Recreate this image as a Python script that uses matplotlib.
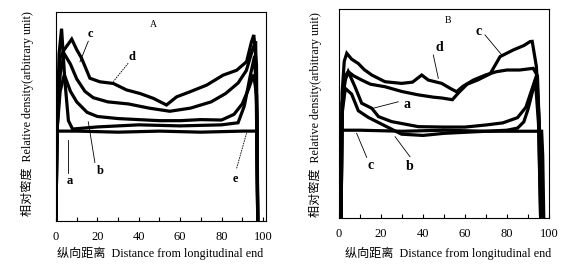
import matplotlib
matplotlib.use("Agg")
import matplotlib.pyplot as plt

plt.rcParams['font.family'] = ['Liberation Serif', 'Noto Sans CJK SC']

# ---- panel A curves (x = distance, y = relative density, arbitrary) ----
a_x = [0, 0.5, 1.5, 2.7, 4.3, 6, 8, 20, 40, 60, 80, 88, 91, 94, 96, 97.2, 97.5]
a_y = [0, 43, 80, 92, 67, 48, 44, 45, 46, 45.5, 46, 47, 55, 70, 79, 50, 0]

b_x = [0, 0.5, 2, 4, 7, 10, 15, 20, 30, 40, 50, 60, 70, 80, 86, 90, 93, 95.5, 97, 97.5]
b_y = [0, 43, 62, 70, 62, 57, 52, 50, 49, 48.5, 48, 48, 48.5, 48.3, 51, 56, 63, 70, 60, 0]

c_x = [0, 0.5, 2, 4, 7, 10, 14, 18, 25, 35, 45, 55, 65, 75, 82, 88, 92, 95, 96.5, 97.5]
c_y = [0, 43, 70, 80, 75, 68, 62, 59, 57, 56, 54, 52.5, 54, 57, 61, 66, 72, 82, 86, 0]

d_x = [0, 0.5, 2, 4, 7.6, 10, 12.4, 16.4, 21.2, 27.7, 34.1, 40.6, 47, 53.4, 58.3,
       64.7, 72.8, 80.8, 87.3, 92.1, 94.5, 95.6, 96.9, 97.5]
d_y = [0, 43, 78, 82, 87, 82, 77.8, 68.3, 66.6, 65.8, 62.7, 61, 58.7, 55.5, 59.4,
       61.8, 65, 69.8, 72.1, 76.2, 85.8, 89, 74.6, 0]

e_x = [0, 0.5, 10, 30, 50, 70, 90, 97, 97.5]
e_y = [19, 43, 43, 42.5, 43, 42.5, 43, 43, 0]

# ---- panel B curves ----
ba_x = [1, 1.5, 3, 4.4, 7.6, 10.8, 15.6, 18.8, 25.1, 37.8, 50, 60, 70, 78, 85, 89, 92, 94, 95, 96]
ba_y = [0, 55, 66, 70, 62.8, 54.9, 52.5, 48.5, 46.1, 43.7, 43.5, 43.5, 44.5, 45.5, 48, 53, 62, 68, 50, 0]

bb_x = [1, 1.5, 3, 6, 9.2, 14, 20.3, 29.8, 40, 50, 60, 70, 80, 85, 88, 90, 92, 93.5, 95, 96]
bb_y = [0, 50, 62, 59.3, 51.3, 48.1, 44.9, 40.1, 39.5, 40.5, 41, 41.5, 42, 43, 46, 52, 60, 66, 45, 0]

bc_x = [1, 1.5, 3, 4.4, 7, 10.8, 15, 21.9, 30, 37.8, 45, 49, 54, 57, 61, 66, 72,
        76.7, 83, 88, 91, 92, 94, 95.5, 96.5]
bc_y = [0, 55, 68, 70, 68, 66, 64, 62.8, 60.5, 58.9, 57.8, 57.4, 56.6, 60, 64, 66, 69,
        77.2, 80.4, 82.5, 84.4, 84.5, 72.4, 42, 0]

bd_x = [1, 1.5, 2.5, 3.7, 6, 9.2, 12, 15.6, 21.9, 29.8, 35, 39.4, 42.5, 48.9, 53, 56,
        59, 64, 70, 75, 80, 86, 92.5, 94.5, 95.5, 96.5]
bd_y = [0, 60, 75, 78.8, 76, 73.9, 71, 68.4, 65.2, 64.4, 65, 68.4, 66, 64.4, 62, 60.4,
        63, 66, 68.5, 70, 70.8, 70.8, 71.6, 68, 40, 0]

be_x = [0.5, 1, 10, 30, 50, 70, 90, 96.5, 97, 97.5]
be_y = [0, 42, 42, 41.5, 42, 41.5, 41.5, 41.5, 30, 0]

ticks = [0, 20, 40, 60, 80, 100]
ylabel = "相对密度  Relative density(arbitrary unit)"
xlabel = "纵向距离  Distance from longitudinal end"

fig = plt.figure(figsize=(5.65, 2.68), dpi=100)
axA = fig.add_axes([0.0991, 0.1754, 0.3717, 0.7799])
axB = fig.add_axes([0.6, 0.1866, 0.3717, 0.7799])

lw = 2.3
for xs, ys in [(e_x, e_y), (a_x, a_y), (b_x, b_y), (c_x, c_y), (d_x, d_y)]:
    axA.plot(xs, ys, color='black', lw=lw, solid_joinstyle='miter')
for xs, ys in [(be_x, be_y), (ba_x, ba_y), (bb_x, bb_y), (bc_x, bc_y), (bd_x, bd_y)]:
    axB.plot(xs, ys, color='black', lw=lw, solid_joinstyle='miter')

axA.set_xlim(0, 101.5)
axB.set_xlim(0, 99.5)
for ax in (axA, axB):
    ax.set_ylim(0, 100)
    ax.set_xticks(ticks)
    ax.set_xticks(range(0, 101, 10), minor=True)
    ax.set_yticks([])
    ax.tick_params(axis='x', which='both', direction='in', length=3, width=0.8, pad=7,
                   labelsize=9)
    for s in ax.spines.values():
        s.set_linewidth(0.8)

# curve labels with leader lines, panel A
fs = 9
axA.text(47.3, 93.8, "A", fontsize=7, ha='center', va='center')
axA.plot([5.9, 5.9], [23, 38.8], color='black', lw=0.6)
axA.text(6.8, 19, "a", fontsize=fs, fontweight='bold', ha='center', va='center')
axA.plot([18.8, 15.6], [28, 47.5], color='black', lw=0.6)
axA.text(21.3, 24, "b", fontsize=fs, fontweight='bold', ha='center', va='center')
axA.plot([15.6, 11.6], [86, 76.2], color='black', lw=0.6)
axA.text(16.4, 89.5, "c", fontsize=fs, fontweight='bold', ha='center', va='center')
axA.plot([34.9, 27.7], [75.5, 66.7], color='black', lw=0.6, ls=(0, (2, 1)))
axA.text(36.7, 78.5, "d", fontsize=fs, fontweight='bold', ha='center', va='center')
axA.plot([87.3, 92.1], [25.2, 42], color='black', lw=0.6, ls=(0, (2, 1)))
axA.text(86.5, 20, "e", fontsize=fs, fontweight='bold', ha='center', va='center')

# panel B
axB.text(52, 94.4, "B", fontsize=7, ha='center', va='center')
axB.plot([44.9, 47.3], [78, 66.8], color='black', lw=0.6)
axB.text(47.8, 81.5, "d", fontsize=fs + 1, fontweight='bold', ha='center', va='center')
axB.plot([69.5, 77.5], [87.6, 78], color='black', lw=0.6)
axB.text(66.3, 89, "c", fontsize=fs + 1, fontweight='bold', ha='center', va='center')
axB.plot([28.2, 16.3], [55.6, 52.5], color='black', lw=0.6)
axB.text(32.2, 54.5, "a", fontsize=fs + 1, fontweight='bold', ha='center', va='center')
axB.plot([33.8, 26.7], [29.3, 38.9], color='black', lw=0.6)
axB.text(33.8, 24.5, "b", fontsize=fs + 1, fontweight='bold', ha='center', va='center')
axB.plot([13.2, 8.4], [29, 40.5], color='black', lw=0.6)
axB.text(14.8, 25, "c", fontsize=fs + 1, fontweight='bold', ha='center', va='center')

# axis titles
fig.text(0.048, 0.575, ylabel, rotation=90, fontsize=8.7, ha='center', va='center')
fig.text(0.558, 0.571, ylabel, rotation=90, fontsize=8.7, ha='center', va='center')
fig.text(0.283, 0.056, xlabel, fontsize=8.7, ha='center', va='center')
fig.text(0.793, 0.056, xlabel, fontsize=8.7, ha='center', va='center')

fig.savefig("out.png", dpi=100)
